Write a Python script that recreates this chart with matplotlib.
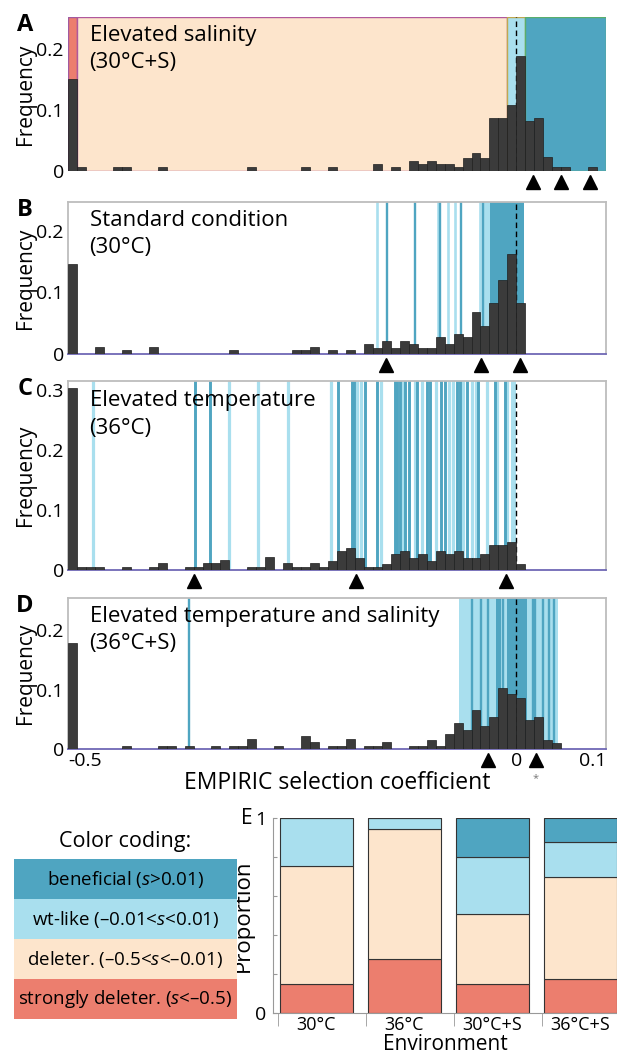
import numpy as np
import matplotlib
matplotlib.use("Agg")
import matplotlib.pyplot as plt
from matplotlib.patches import Rectangle
from matplotlib.transforms import blended_transform_factory

plt.rcParams["font.family"] = ["Open Sans", "DejaVu Sans"]
plt.rcParams["mathtext.fontset"] = "custom"
plt.rcParams["mathtext.it"] = "Open Sans:italic"
plt.rcParams["mathtext.rm"] = "Open Sans"

# ── Colours ───────────────────────────────────────────────────────────────────
C_BEN = "#4fa5c1"   # beneficial
C_WT = "#a9dfee"    # wt-like
C_DEL = "#fde5cc"   # deleterious
C_STR = "#ec7e6e"   # strongly deleterious
C_BAR = "#3b3b3b"

# ── Data ──────────────────────────────────────────────────────────────────────
# histogram bins of width 0.01 from -0.5 to 0.1 (first bin collects s < -0.5)
bin_left = np.round(np.arange(-0.5, 0.1, 0.01), 3)

freq_A = [0.151, 0.0066, 0, 0, 0, 0.0066, 0.0066, 0, 0, 0,
          0.0066, 0, 0, 0, 0, 0, 0, 0, 0, 0,
          0.0066, 0, 0, 0, 0, 0, 0.0066, 0, 0, 0.0066,
          0, 0, 0, 0, 0.012, 0, 0.0066, 0, 0.017, 0.012,
          0.017, 0.012, 0.012, 0.0066, 0.022, 0.029, 0.022, 0.0865, 0.0865, 0.1085,
          0.188, 0.0815, 0.0865, 0.023, 0.0066, 0.0066, 0, 0, 0.0066, 0]

freq_B = [0.146, 0, 0, 0.0115, 0, 0, 0.0057, 0, 0, 0.0115,
          0, 0, 0, 0, 0, 0, 0, 0, 0.0057, 0,
          0, 0, 0, 0, 0, 0.0057, 0.0057, 0.0115, 0, 0.0057,
          0, 0.0057, 0, 0.016, 0.0105, 0.021, 0.0105, 0.021, 0.016, 0.0105,
          0.0105, 0.027, 0.016, 0.032, 0.027, 0.068, 0.046, 0.083, 0.12, 0.162,
          0.083, 0, 0, 0, 0, 0, 0, 0, 0, 0]

freq_C = [0.303, 0.0055, 0.0055, 0.0055, 0, 0, 0.0055, 0, 0, 0.0055,
          0.011, 0, 0, 0.0055, 0.0055, 0.011, 0.011, 0.0167, 0, 0,
          0.0055, 0.0055, 0.021, 0, 0.011, 0.0055, 0.0055, 0.011, 0.0055, 0.015,
          0.031, 0.037, 0.02, 0.0055, 0.0055, 0.01, 0.026, 0.031, 0.02, 0.026,
          0.0145, 0.031, 0.026, 0.031, 0.02, 0.02, 0.026, 0.042, 0.042, 0.047,
          0.01, 0, 0, 0, 0, 0, 0, 0, 0, 0]

freq_D = [0.179, 0, 0, 0, 0, 0, 0.0056, 0, 0, 0,
          0.0056, 0.0056, 0, 0.0056, 0, 0, 0.0056, 0, 0.0056, 0.0056,
          0.0165, 0, 0, 0.0056, 0, 0, 0.022, 0.011, 0, 0.0056,
          0.0056, 0.0165, 0, 0.0056, 0.0056, 0.011, 0, 0, 0.0056, 0.0056,
          0.0156, 0.0056, 0.0257, 0.0436, 0.0324, 0.065, 0.038, 0.0536, 0.102, 0.092,
          0.0866, 0.048, 0.0536, 0.0156, 0.01, 0, 0, 0, 0, 0]

# individual mutants marked as vertical lines (s values)
wt_lines_B = [-0.155, -0.0874, -0.0762, -0.068, -0.0405]
ben_lines_B = [-0.1446, -0.1134, -0.0848, -0.0621, -0.0376]
wt_bands_B = [(-0.0364, -0.0297)]
ben_bands_B = [(-0.0297, 0.0085)]

wt_lines_C = [-0.472, -0.321, -0.288, -0.2546, -0.207, -0.178, -0.173, -0.151,
              -0.1267, -0.1126, -0.1048, -0.09, -0.0747, -0.071, -0.0591,
              -0.049, -0.0454, -0.0331, -0.0212, -0.01]
ben_lines_C = [-0.358, -0.342, -0.199, -0.183, -0.181, -0.169, -0.155, -0.1357,
               -0.1327, -0.1297, -0.1245, -0.1197, -0.1104, -0.0992, -0.0963,
               -0.0836, -0.08, -0.0666, -0.0628, -0.0546, -0.0428, -0.0242, -0.013]
wt_bands_C = [(-0.0064, 0.0)]
ben_bands_C = []

wt_lines_D = []
ben_lines_D = [-0.3648, -0.049, -0.0398, -0.0316, -0.0153, 0.019, 0.0208,
               0.030, 0.0364, 0.042]
wt_bands_D = [(-0.064, 0.046)]
ben_bands_D = [(-0.0231, -0.0175), (-0.01, 0.0123)]

triangles_A = [0.019, 0.05, 0.082]
triangles_B = [-0.145, -0.039, 0.004]
triangles_C = [-0.36, -0.179, -0.012]
triangles_D = [-0.032, 0.022]

titles = ["Elevated salinity\n(30°C+S)", "Standard condition\n(30°C)",
          "Elevated temperature\n(36°C)",
          "Elevated temperature and salinity\n(36°C+S)"]
letters = ["A", "B", "C", "D"]

# panel E: proportions per environment
environments = ["30°C", "36°C", "30°C+S", "36°C+S"]
prop_strong = [0.149, 0.279, 0.149, 0.174]
prop_deleter = [0.603, 0.665, 0.359, 0.523]
prop_wt = [0.248, 0.056, 0.292, 0.178]
prop_benef = [0.0, 0.0, 0.200, 0.125]

legend_labels = ["beneficial ($\\mathit{s}$>0.01)",
                 "wt-like (–0.01<$\\mathit{s}$<0.01)",
                 "deleter. (–0.5<$\\mathit{s}$<–0.01)",
                 "strongly deleter. ($\\mathit{s}$<–0.5)"]
legend_colors = [C_BEN, C_WT, C_DEL, C_STR]

# ── Figure ────────────────────────────────────────────────────────────────────
W, H = 617, 1063
fig = plt.figure(figsize=(W / 100, H / 100), dpi=100)


def px_axes(left, top, right, bottom):
    return fig.add_axes([left / W, 1 - bottom / H, (right - left) / W, (bottom - top) / H])


boxes = [(68, 17, 606, 171), (68, 202, 606, 354), (68, 381, 606, 570), (68, 598, 606, 749)]
ylims = [0.252, 0.247, 0.315, 0.254]
freqs = [freq_A, freq_B, freq_C, freq_D]
wt_lines = [[], wt_lines_B, wt_lines_C, wt_lines_D]
ben_lines = [[], ben_lines_B, ben_lines_C, ben_lines_D]
wt_bands = [[], wt_bands_B, wt_bands_C, wt_bands_D]
ben_bands = [[], ben_bands_B, ben_bands_C, ben_bands_D]
tris = [triangles_A, triangles_B, triangles_C, triangles_D]
line_w = [0, 1.9, 2.3, 1.9]

for i in range(4):
    ax = px_axes(*boxes[i])
    ax.set_xlim(-0.5, 0.1)
    ax.set_ylim(0, ylims[i])
    hpx = boxes[i][3] - boxes[i][1]

    if i == 0:
        ax.axvspan(-0.5, -0.49, facecolor=C_STR, edgecolor="#a05aa0", lw=1, zorder=0)
        ax.axvspan(-0.49, -0.01, facecolor=C_DEL, edgecolor="#b0589c", lw=1, zorder=0)
        ax.axvspan(-0.01, 0.01, facecolor=C_WT, edgecolor="#c0a850", lw=1, zorder=0)
        ax.axvspan(0.01, 0.1, facecolor=C_BEN, edgecolor="#5aae6c", lw=1, zorder=0)
        for sp in ax.spines.values():
            sp.set_visible(False)
    else:
        for lo, hi in wt_bands[i]:
            ax.axvspan(lo, hi, color=C_WT, lw=0, zorder=0)
        for lo, hi in ben_bands[i]:
            ax.axvspan(lo, hi, color=C_BEN, lw=0, zorder=0.5)
        for s in wt_lines[i]:
            ax.axvline(s, color=C_WT, lw=line_w[i], zorder=1)
        for s in ben_lines[i]:
            ax.axvline(s, color=C_BEN, lw=line_w[i] - 0.2, zorder=1.2)
        for sp in ax.spines.values():
            sp.set_color("#bdbdbd")
            sp.set_linewidth(1.3)
        ax.spines["bottom"].set_color("#6f68b5")

    ax.axvline(0, color="black", lw=1, ls=(0, (4, 2.5)), zorder=2)

    heights = np.array(freqs[i])
    keep = heights > 0
    ax.bar(bin_left[keep], heights[keep], width=0.01, align="edge",
           color=C_BAR, edgecolor="#1f1f1f", lw=0.5, zorder=3)

    yt = [0, 0.1, 0.2] + ([0.3] if i == 2 else [])
    ax.set_yticks(yt)
    ax.set_yticklabels(["0" if v == 0 else f"{v:g}" for v in yt])
    ax.tick_params(axis="y", length=0, labelsize=14, pad=3)
    ax.tick_params(axis="x", length=0)
    ax.set_ylabel("Frequency", fontsize=15, labelpad=0)

    tr = blended_transform_factory(ax.transData, ax.transAxes)
    ax.plot(tris[i], [-11 / hpx] * len(tris[i]), ls="none", marker="^",
            ms=10, color="black", transform=tr, clip_on=False)

    ax.text(0.04, 0.95, titles[i], transform=ax.transAxes, fontsize=16,
            va="top", ha="left", linespacing=1.4, zorder=5)

    if i == 3:
        ax.set_xticks([-0.5, 0, 0.1])
        ax.set_xticklabels(["-0.5", "0", "0.1"], fontsize=14)
        labs = ax.get_xticklabels()
        labs[0].set_ha("left")
        labs[2].set_ha("right")
        ax.tick_params(axis="x", pad=2)
        ax.set_xlabel("EMPIRIC selection coefficient", fontsize=16.5, labelpad=1)
        ax.text(0.022, -30 / hpx, "*", transform=tr, fontsize=8, color="#777777",
                ha="center", va="center")
    else:
        ax.set_xticks([])

    fig.text(25 / W, 1 - (boxes[i][1] + 8) / H, letters[i], fontsize=17,
             fontweight="bold", ha="center", va="center")

# ── Panel E: stacked proportions ──────────────────────────────────────────────
axE = px_axes(273, 818, 617, 1013)
x = np.arange(len(environments))
bw = 0.83
bottom = np.zeros(len(environments))
for vals, col in zip([prop_strong, prop_deleter, prop_wt, prop_benef],
                     [C_STR, C_DEL, C_WT, C_BEN]):
    axE.bar(x, vals, bw, bottom=bottom, color=col, edgecolor="#333333", lw=0.8)
    bottom += np.array(vals)
axE.set_xlim(-0.49, 3.415)
axE.set_ylim(0, 1)
axE.spines["top"].set_visible(False)
axE.spines["right"].set_visible(False)
axE.spines["left"].set_color("#999999")
axE.spines["bottom"].set_color("#999999")
axE.set_yticks(np.arange(0, 1.01, 0.2))
axE.set_yticklabels(["0", "", "", "", "", "1"])
axE.tick_params(axis="y", direction="in", length=3, color="#999999", labelsize=14, pad=5)
axE.set_xticks(x)
axE.set_xticklabels(environments)
axE.set_xticks(x - bw / 2 - 0.02, minor=True)
axE.tick_params(axis="x", which="major", length=0, labelsize=13, pad=2)
axE.tick_params(axis="x", which="minor", length=9, color="#999999")
axE.set_ylabel("Proportion", fontsize=16, labelpad=1)
axE.set_xlabel("Environment", fontsize=15, labelpad=0)
fig.text(247 / W, 1 - 818 / H, "E", fontsize=15, ha="center", va="center")

# ── Colour coding key ─────────────────────────────────────────────────────────
axL = px_axes(14, 859, 237, 1019)
axL.set_xlim(0, 1)
axL.set_ylim(0, 4)
axL.axis("off")
for j, (lab, col) in enumerate(zip(legend_labels, legend_colors)):
    yb = 3 - j
    axL.add_patch(Rectangle((0, yb), 1, 1, facecolor=col, edgecolor="none"))
    axL.text(0.5, yb + 0.5, lab, ha="center", va="center", fontsize=13.5)
fig.text(125 / W, 1 - 842 / H, "Color coding:", fontsize=15.5, ha="center", va="center")

fig.savefig("out.png", dpi=100)
